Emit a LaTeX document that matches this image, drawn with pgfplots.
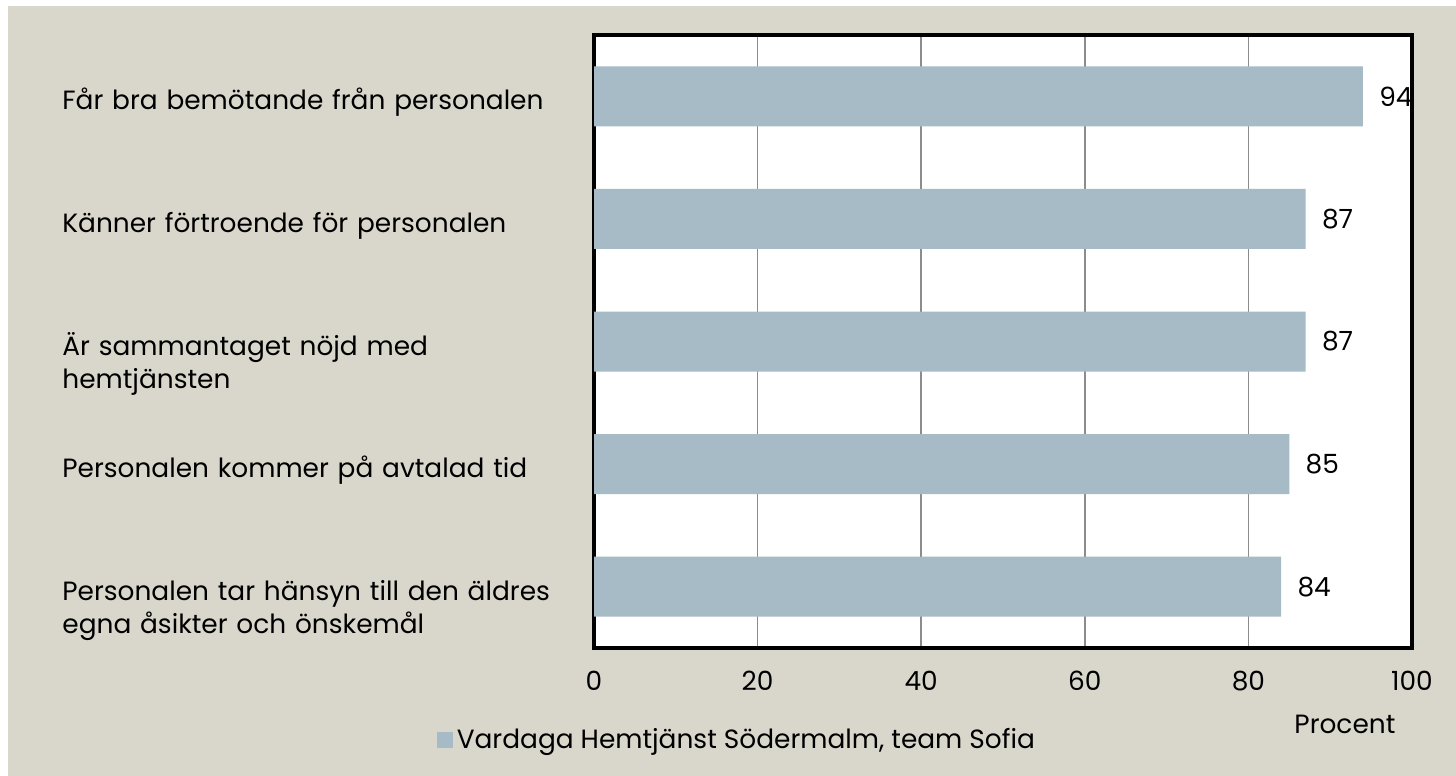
\documentclass[border=0pt]{standalone}
\usepackage{pgfplots}
\pgfplotsset{compat=1.18}
\usepackage{fontspec}
\setmainfont{Poppins}
\definecolor{bg}{HTML}{D9D7CB}
\definecolor{barcol}{HTML}{A7BBC7}
\definecolor{gridcol}{HTML}{8C8C8C}
\newcommand\myfont{\fontsize{13.2}{16.5}\selectfont}
\begin{document}
\begin{tikzpicture}[x=1pt,y=1pt]
% white strip and beige panel (1px = 0.5pt)
\fill[white] (0,0) rectangle (728,388);
\fill[bg] (4,0) rectangle (728,385);
\begin{axis}[
  at={(297pt,64pt)}, anchor=south west,
  scale only axis, width=409pt, height=306.5pt,
  xbar, bar width=30pt,
  xmin=0, xmax=100, ymin=-0.5, ymax=4.5,
  xtick={0,20,...,100}, ytick={0,...,4},
  yticklabels={
    {\strut Personalen tar hänsyn till den äldres\\egna åsikter och önskemål},
    {\strut Personalen kommer på avtalad tid},
    {\strut Är sammantaget nöjd med\\hemtjänsten},
    {\strut Känner förtroende för personalen},
    {\strut Får bra bemötande från personalen}},
  axis background/.style={fill=white},
  axis line style={black, line width=1.75pt},
  major tick length=0pt,
  xmajorgrids, grid style={gridcol, line width=0.75pt},
  /pgf/number format/assume math mode=true,
  every tick label/.append style={font=\myfont},
  xticklabel style={yshift=-8pt},
  yticklabel style={anchor=north west, text width=262pt, align=left,
    inner sep=0pt, xshift=-266pt, yshift=5pt},
  xlabel={Procent},
  xlabel style={font=\myfont, at={(axis description cs:0.918,-0.124)}, anchor=center},
  nodes near coords,
  nodes near coords style={font=\myfont, anchor=west, inner sep=0pt, xshift=8pt, text=black},
  legend style={at={(axis description cs:-0.2,-0.15)}, anchor=west,
    draw=none, fill=none, font=\myfont},
  legend image code/.code={\fill[barcol] (0pt,-4pt) rectangle (8pt,4pt);},
  clip=false,
]
\addplot[fill=barcol, draw=none] coordinates {
  (84,0) (85,1) (87,2) (87,3) (94,4)
};
\addlegendentry{Vardaga Hemtjänst Södermalm, team Sofia}
\end{axis}
\end{tikzpicture}
\end{document}
